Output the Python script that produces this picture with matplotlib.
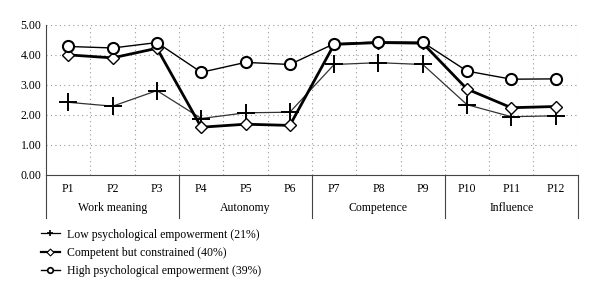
import matplotlib.pyplot as plt
from matplotlib.lines import Line2D
import matplotlib.transforms as mtransforms

plt.rcParams['font.family'] = ['Liberation Serif', 'DejaVu Serif']

items = ['P1', 'P2', 'P3', 'P4', 'P5', 'P6', 'P7', 'P8', 'P9', 'P10', 'P11', 'P12']
groups = ['Work meaning', 'Autonomy', 'Competence', 'Influence']
low = [2.42, 2.29, 2.81, 1.88, 2.07, 2.09, 3.68, 3.74, 3.68, 2.34, 1.94, 1.97]
competent = [4.00, 3.90, 4.22, 1.59, 1.69, 1.65, 4.35, 4.41, 4.39, 2.86, 2.24, 2.28]
high = [4.28, 4.23, 4.41, 3.42, 3.75, 3.68, 4.37, 4.43, 4.42, 3.46, 3.19, 3.20]
labels = ['Low psychological empowerment (21%)',
          'Competent but constrained (40%)',
          'High psychological empowerment (39%)']

fig = plt.figure(figsize=(6, 2.96), dpi=100)
ax = fig.add_axes([0.077, 0.409, 0.886, 0.507])
x = list(range(len(items)))

ax.plot(x, low, color='#333333', lw=0.9, marker='+', ms=13, mew=1.4, mec='black', zorder=3)
ax.plot(x, competent, color='black', lw=2.0, marker='D', ms=6.5, mew=1.0, mfc='white', mec='black', zorder=4)
ax.plot(x, high, color='black', lw=1.0, marker='o', ms=8, mew=1.5, mfc='white', mec='black', zorder=5)

ax.set_xlim(-0.5, len(items) - 0.5)
ax.set_ylim(0, 5)
ax.set_yticks([0, 1, 2, 3, 4, 5])
ax.set_yticklabels(['%.2f' % v for v in [0, 1, 2, 3, 4, 5]], fontsize=8.5)
ax.set_xticks(x)
ax.set_xticklabels(items, fontsize=8.5)
ax.set_xticks([i + 0.5 for i in x], minor=True)
ax.tick_params(axis='both', which='both', length=0)
ax.tick_params(axis='x', pad=6)
ax.grid(False)
ax.grid(True, which='minor', axis='x', color='#999999', lw=0.8, linestyle=(0, (1, 3)))
ax.grid(True, which='major', axis='y', color='#999999', lw=0.8, linestyle=(0, (1, 3)))
ax.set_axisbelow(True)
for s in ['top', 'right']:
    ax.spines[s].set_visible(False)
ax.spines['left'].set_linewidth(0.8)
ax.spines['bottom'].set_linewidth(0.8)
ax.spines['left'].set_color('#444444')
ax.spines['bottom'].set_color('#444444')

# category table below the axis
trans = mtransforms.blended_transform_factory(ax.transData, ax.transAxes)
n = 3
for g in range(len(groups) + 1):
    xb = g * n - 0.5
    ax.plot([xb, xb], [0, -0.29], transform=trans, color='#444444', lw=0.8, clip_on=False)
for g, name in enumerate(groups):
    ax.text(g * n + (n - 1) / 2, -0.22, name, transform=trans, ha='center', va='center', fontsize=8.5)

handles = [
    Line2D([], [], color='black', lw=0.9, marker='+', ms=5, mew=1.2),
    Line2D([], [], color='black', lw=1.6, marker='D', ms=3.5, mfc='white', mew=0.8),
    Line2D([], [], color='black', lw=1.0, marker='o', ms=4, mfc='white', mew=1.2),
]
fig.legend(handles, labels, loc='upper left', bbox_to_anchor=(0.068, 0.228), frameon=False,
           fontsize=8.5, handlelength=1.6, handletextpad=0.6, labelspacing=0.55,
           borderaxespad=0, borderpad=0)

fig.savefig('out.png', dpi=100)
